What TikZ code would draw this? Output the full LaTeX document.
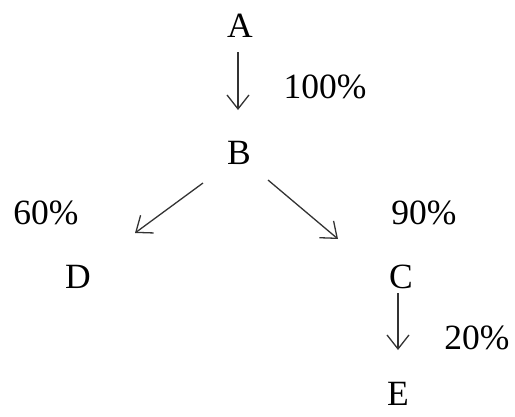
\documentclass[tikz,border=0pt]{standalone}
\usepackage{fontspec}
\setmainfont{Liberation Serif}
\usetikzlibrary{arrows.meta}
\begin{document}
\begin{tikzpicture}[x=1pt,y=1pt,
  lbl/.style={inner sep=0pt, font=\fontsize{35.5}{38}\selectfont},
  arr/.style={draw=black!80, line width=1.3pt, -{Straight Barb[length=14pt,width=22pt]}}]
\useasboundingbox (0,0) rectangle (515,-416);
\node[lbl] (A) at (240,-26) {A};
\node[lbl] (B) at (239,-153) {B};
\node[lbl] (D) at (78,-277) {D};
\node[lbl] (C) at (401,-277) {C};
\node[lbl] (E) at (398,-394) {E};
\node[lbl] (pAB) at (325,-87) {100\%};
\node[lbl] (pBD) at (46,-213) {60\%};
\node[lbl] (pBC) at (424,-213) {90\%};
\node[lbl] (pCE) at (477,-338) {20\%};
\draw[arr] ([shift={(-2pt,-26pt)}]A.center) -- ([shift={(-1pt,43pt)}]B.center);
\draw[arr] ([shift={(-36pt,-30pt)}]B.center) -- ([shift={(57pt,44pt)}]D.center);
\draw[arr] ([shift={(29pt,-27pt)}]B.center) -- ([shift={(-63pt,38pt)}]C.center);
\draw[arr] ([shift={(-3pt,-16pt)}]C.center) -- ([shift={(0pt,44pt)}]E.center);
\end{tikzpicture}
\end{document}
